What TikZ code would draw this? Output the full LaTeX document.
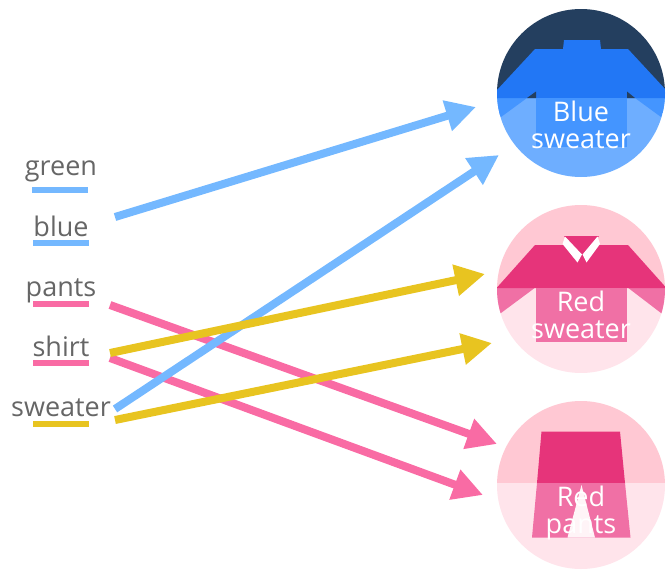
\documentclass[tikz,border=0pt]{standalone}
\usepackage{fontspec}
\setmainfont{Open Sans}
\usetikzlibrary{arrows.meta}
\definecolor{skyblue}{HTML}{74B8FF}
\definecolor{hotpink}{HTML}{F96BA4}
\definecolor{mustard}{HTML}{E8C420}
\definecolor{wordgray}{HTML}{666666}
\definecolor{navy}{HTML}{243F5F}
\definecolor{paleblue}{HTML}{6EAEFF}
\definecolor{midblue}{HTML}{4495FF}
\definecolor{deepblue}{HTML}{2277F5}
\definecolor{palerose}{HTML}{FFC8D3}
\definecolor{palepink}{HTML}{FFE4EB}
\definecolor{deeprose}{HTML}{E6347A}
\definecolor{midrose}{HTML}{F070A5}
\tikzset{
  word/.style={text=wordgray,font=\fontsize{27}{27}\selectfont,inner sep=0pt,anchor=base},
  caption/.style={text=white,font=\fontsize{27}{27.5}\selectfont,align=center,inner sep=0pt},
  rule/.style={line width=6pt},
  link/.style={line width=8pt,-{Triangle[length=30pt,width=30pt]}},
}
\begin{document}
\begin{tikzpicture}[x=1pt,y=-1pt]
        \useasboundingbox (0,0) rectangle (670,571) ;
        % blue sweater
        \begin{scope}
          \clip (581,93) circle (84pt) ;
          \fill[color=navy] (490,0) rectangle (670,98) ;
          \fill[color=paleblue] (490,98) rectangle (670,180) ;
          \fill[color=midblue] (490,98) -- (501,117) -- (527,98) -- cycle ;
          \fill[color=midblue] (670,98) -- (661,117) -- (635,98) -- cycle ;
          \fill[color=deepblue] (490,94) -- (497,90) -- (535,49) -- (563,49) -- (564,40)
            -- (600,40) -- (601,49) -- (628,49) -- (666,90) -- (670,94) -- (670,98)
            -- (490,98) -- cycle ;
          \fill[color=navy] (527,98) -- (536,91.5) -- (536,98) -- cycle ;
          \fill[color=navy] (635,98) -- (627,91.5) -- (627,98) -- cycle ;
          \fill[color=midblue] (536,98) rectangle (627,147) ;
        \end{scope}
        % red sweater
        \begin{scope}
          \clip (581,289) circle (84pt) ;
          \fill[color=palerose] (490,200) rectangle (670,288) ;
          \fill[color=palepink] (490,288) rectangle (670,380) ;
          \fill[color=midrose] (490,287) -- (536,287) -- (501,313) -- (490,320) -- cycle ;
          \fill[color=midrose] (670,287) -- (627,287) -- (661,313) -- (670,320) -- cycle ;
          \fill[color=deeprose] (490,288) -- (497,287.5) -- (535,245) -- (628,245)
            -- (666,287.5) -- (670,288) -- cycle ;
          \fill[color=midrose] (536,287.5) rectangle (627,342) ;
          \fill[color=deeprose] (564,236) -- (599,236) -- (582,256) -- cycle ;
          \fill[color=white] (562.5,244) -- (565,236.5) -- (582,254.5) -- (577.5,262.5) -- cycle ;
          \fill[color=white] (600,244) -- (597.5,236.5) -- (582.5,254.5) -- (586.5,262.5) -- cycle ;
        \end{scope}
        % red pants
        \begin{scope}
          \clip (581,485) circle (84pt) ;
          \fill[color=palerose] (490,395) rectangle (670,483) ;
          \fill[color=palepink] (490,483) rectangle (670,575) ;
          \fill[color=deeprose] (541.5,431.5) -- (620,431.5) -- (625,483) -- (537,483) -- cycle ;
          \fill[color=midrose] (537,483) -- (625,483) -- (630.5,537.5) -- (532,537.5) -- cycle ;
          \fill[color=palepink!40!white] (581.5,485) -- (595,537.5) -- (567.5,537.5) -- cycle ;
        \end{scope}
        \node[caption] (bluecap) at (581,125) {Blue\\sweater} ;
        \node[caption] (redcap) at (581,315) {Red\\sweater} ;
        \node[caption] (pantscap) at (581,513) {Red\\pants} ;
        % words
        \node[word] (green) at (61,175) {green} ;
        \node[word] (blue) at (61,236) {blue} ;
        \node[word] (pants) at (61,296) {pants} ;
        \node[word] (shirt) at (61,356) {shirt} ;
        \node[word] (sweater) at (61,416) {sweater} ;
        \draw[rule,color=skyblue] (32,190) -- (88,190) ;
        \draw[rule,color=skyblue] (33,243) -- (89,243) ;
        \draw[rule,color=hotpink] (33,303.5) -- (89,303.5) ;
        \draw[rule,color=hotpink] (33,363) -- (89,363) ;
        \draw[rule,color=mustard] (33,424) -- (89,424) ;
        % links
        \coordinate (bluefrom) at (115,217) ;
        \coordinate (blueto) at (476,107) ;
        \coordinate (sweaterfrom) at (115,409) ;
        \coordinate (sweaterto) at (499,155) ;
        \coordinate (shirtfrom) at (110,353) ;
        \coordinate (shirtto) at (485,274) ;
        \coordinate (yellowfrom) at (115,420) ;
        \coordinate (yellowto) at (492,343) ;
        \coordinate (pantsfrom) at (110,305) ;
        \coordinate (pantsto) at (497,444) ;
        \coordinate (pinkfrom) at (110,358) ;
        \coordinate (pinkto) at (483,495) ;
        \draw[link,color=skyblue] (bluefrom) -- (blueto) ;
        \draw[link,color=hotpink] (pantsfrom) -- (pantsto) ;
        \draw[link,color=hotpink] (pinkfrom) -- (pinkto) ;
        \draw[link,color=skyblue] (sweaterfrom) -- (sweaterto) ;
        \draw[link,color=mustard] (shirtfrom) -- (shirtto) ;
        \draw[link,color=mustard] (yellowfrom) -- (yellowto) ;
      \end{tikzpicture}
\end{document}
